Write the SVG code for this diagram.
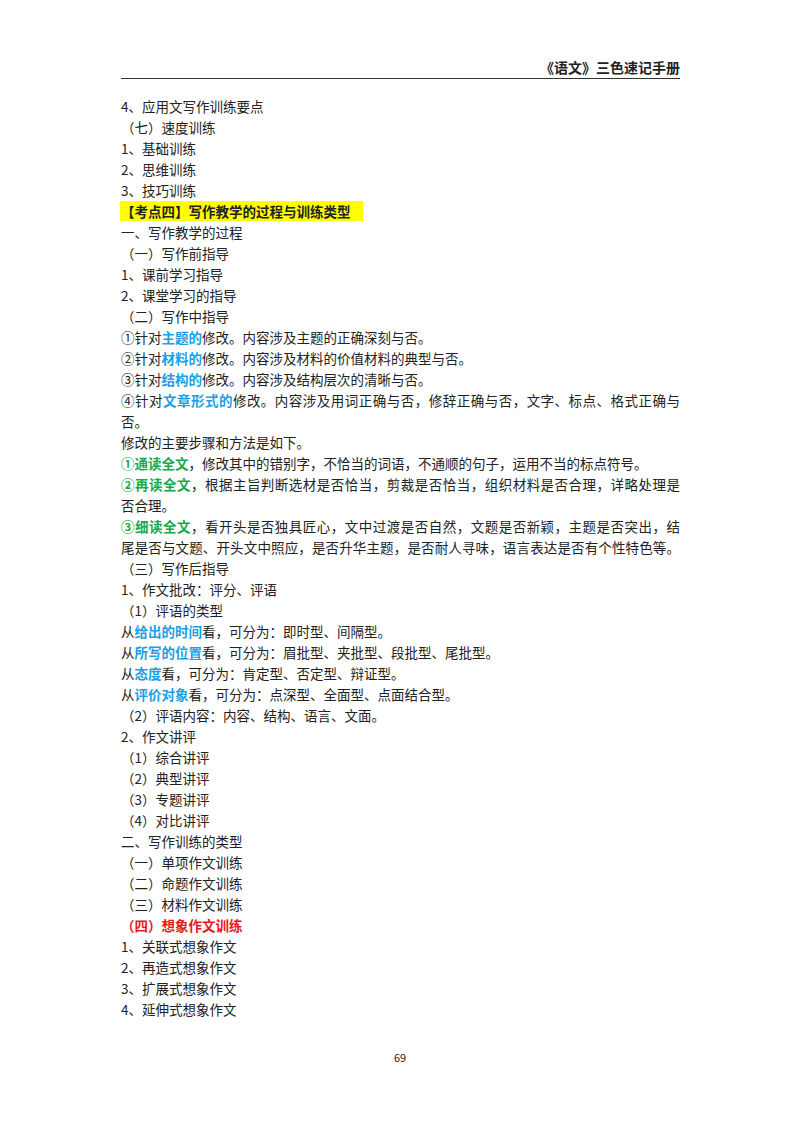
<svg xmlns="http://www.w3.org/2000/svg" width="800" height="1132" viewBox="0 0 800 1132">
<style>
text{font-family:"Noto Sans CJK SC","Liberation Serif",sans-serif;font-size:13.5px;fill:#222}
.b{font-weight:bold}
.blue{fill:#1aa0e6;font-weight:bold}
.green{fill:#19a84a;font-weight:bold}
.red{fill:#e8161c;font-weight:bold}
</style>
<rect width="800" height="1132" fill="#fff"/>
<text x="680" y="73" text-anchor="end" class="b" style="font-size:14px">《语文》三色速记手册</text>
<line x1="121" y1="78.5" x2="680" y2="78.5" stroke="#333" stroke-width="1"/>
<rect x="120" y="201" width="243" height="20" fill="#ffff00"/>
<g id="body">
<text x="121" y="112">4、应用文写作训练要点</text>
<text x="121" y="133">（七）速度训练</text>
<text x="121" y="154">1、基础训练</text>
<text x="121" y="175">2、思维训练</text>
<text x="121" y="196">3、技巧训练</text>
<text x="121" y="217" class="b">【考点四】写作教学的过程与训练类型</text>
<text x="121" y="238">一、写作教学的过程</text>
<text x="121" y="259">（一）写作前指导</text>
<text x="121" y="280">1、课前学习指导</text>
<text x="121" y="301">2、课堂学习的指导</text>
<text x="121" y="322">（二）写作中指导</text>
<text x="121" y="343">①针对<tspan class="blue">主题的</tspan>修改。内容涉及主题的正确深刻与否。</text>
<text x="121" y="364">②针对<tspan class="blue">材料的</tspan>修改。内容涉及材料的价值材料的典型与否。</text>
<text x="121" y="385">③针对<tspan class="blue">结构的</tspan>修改。内容涉及结构层次的清晰与否。</text>
<text x="121" y="406" textLength="559" lengthAdjust="spacing">④针对<tspan class="blue">文章形式的</tspan>修改。内容涉及用词正确与否，修辞正确与否，文字、标点、格式正确与</text>
<text x="121" y="427">否。</text>
<text x="121" y="448">修改的主要步骤和方法是如下。</text>
<text x="121" y="469"><tspan class="green">①通读全文</tspan>，修改其中的错别字，不恰当的词语，不通顺的句子，运用不当的标点符号。</text>
<text x="121" y="490" textLength="559" lengthAdjust="spacing"><tspan class="green">②再读全文</tspan>，根据主旨判断选材是否恰当，剪裁是否恰当，组织材料是否合理，详略处理是</text>
<text x="121" y="511">否合理。</text>
<text x="121" y="532" textLength="559" lengthAdjust="spacing"><tspan class="green">③细读全文</tspan>，看开头是否独具匠心，文中过渡是否自然，文题是否新颖，主题是否突出，结</text>
<text x="121" y="553" textLength="559" lengthAdjust="spacing">尾是否与文题、开头文中照应，是否升华主题，是否耐人寻味，语言表达是否有个性特色等。</text>
<text x="121" y="574">（三）写作后指导</text>
<text x="121" y="595">1、作文批改：评分、评语</text>
<text x="121" y="616">（1）评语的类型</text>
<text x="121" y="637">从<tspan class="blue">给出的时间</tspan>看，可分为：即时型、间隔型。</text>
<text x="121" y="658">从<tspan class="blue">所写的位置</tspan>看，可分为：眉批型、夹批型、段批型、尾批型。</text>
<text x="121" y="679">从<tspan class="blue">态度</tspan>看，可分为：肯定型、否定型、辩证型。</text>
<text x="121" y="700">从<tspan class="blue">评价对象</tspan>看，可分为：点深型、全面型、点面结合型。</text>
<text x="121" y="721">（2）评语内容：内容、结构、语言、文面。</text>
<text x="121" y="742">2、作文讲评</text>
<text x="121" y="763">（1）综合讲评</text>
<text x="121" y="784">（2）典型讲评</text>
<text x="121" y="805">（3）专题讲评</text>
<text x="121" y="826">（4）对比讲评</text>
<text x="121" y="847">二、写作训练的类型</text>
<text x="121" y="868">（一）单项作文训练</text>
<text x="121" y="889">（二）命题作文训练</text>
<text x="121" y="910">（三）材料作文训练</text>
<text x="121" y="931" class="red">（四）想象作文训练</text>
<text x="121" y="952">1、关联式想象作文</text>
<text x="121" y="973">2、再造式想象作文</text>
<text x="121" y="994">3、扩展式想象作文</text>
<text x="121" y="1015">4、延伸式想象作文</text>
</g>
<text x="400" y="1062" text-anchor="middle" style="font-size:11px">69</text>
</svg>
